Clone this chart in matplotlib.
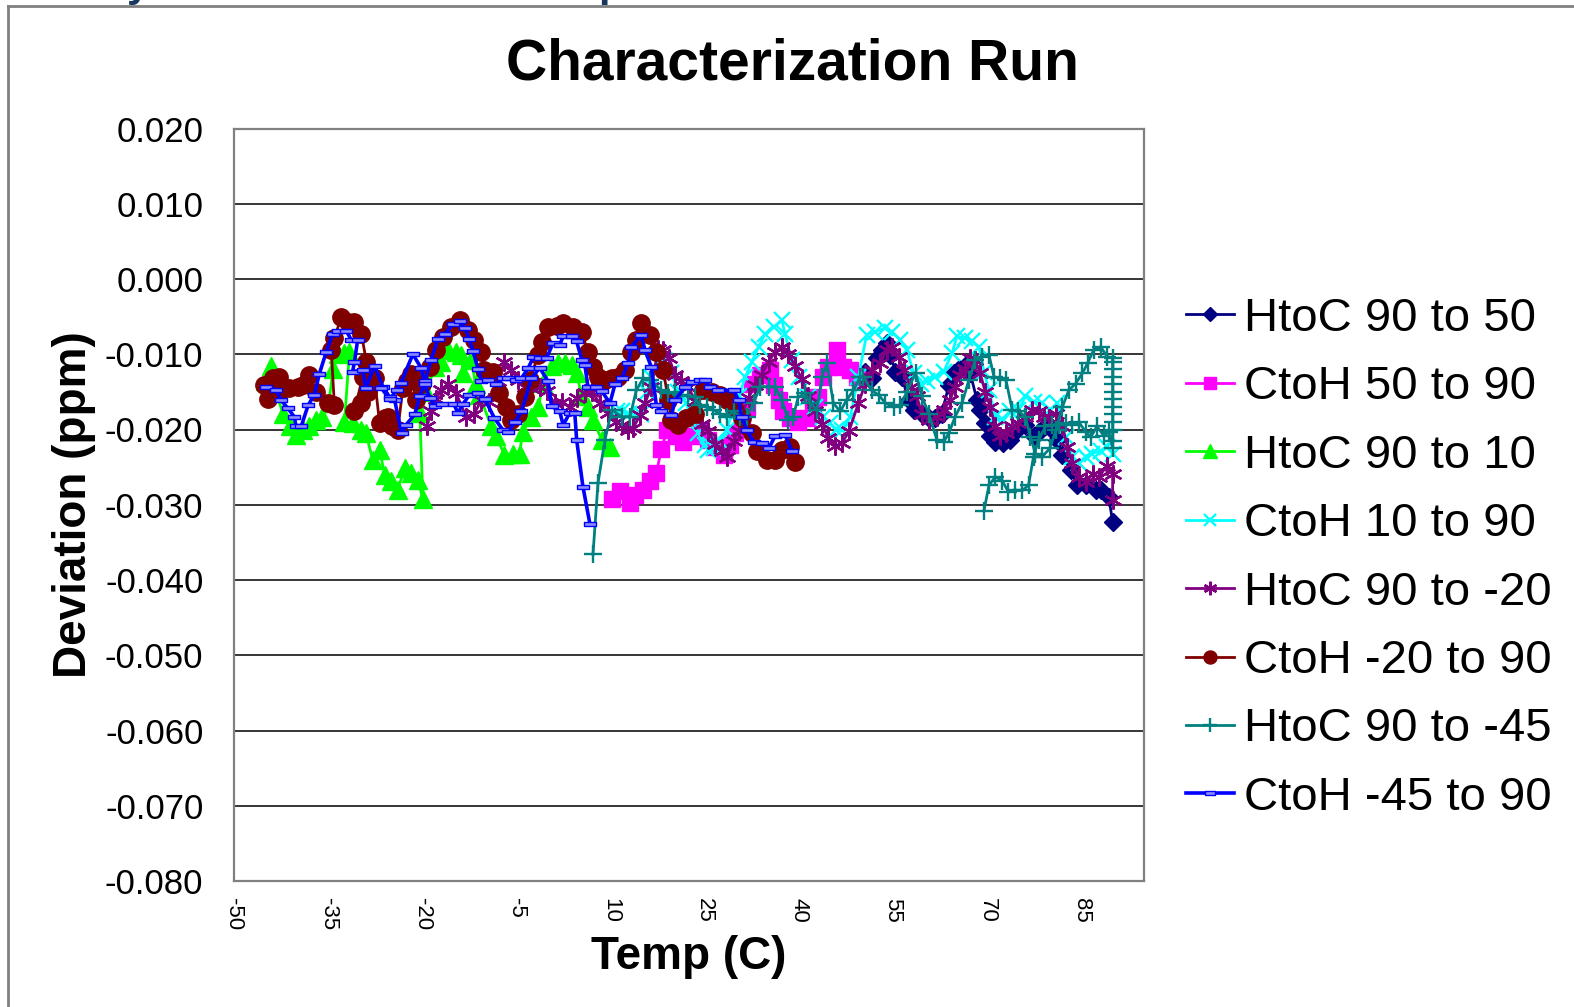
import numpy as np
import matplotlib
matplotlib.use("Agg")
import matplotlib.pyplot as plt
from matplotlib.lines import Line2D
from matplotlib.ticker import FormatStrFormatter

plt.rcParams['font.family'] = ['Liberation Sans', 'DejaVu Sans']
plt.rcParams['axes.unicode_minus'] = False

# ---- data: temperature (C) and deviation (ppm) for each run ----
htoc_90_50_t = [90.0, 89.4, 88.1, 87.3, 85.7, 84.4, 83.3, 82.0, 81.2, 80.4, 79.3, 78.2, 77.4, 76.1,
                75.0, 73.7, 72.6, 71.3, 70.5, 69.7, 68.9, 68.4, 67.3, 66.5, 65.5, 64.7, 63.9, 62.8,
                61.7, 60.7, 59.6, 58.3, 57.5, 56.4, 55.4, 54.6, 54.0, 53.2, 52.4, 51.6, 50.6]
htoc_90_50_v = [-0.0323, -0.0290, -0.0281, -0.0281, -0.0274, -0.0274, -0.0254, -0.0234, -0.0214,
                -0.0201, -0.0196, -0.0203, -0.0208, -0.0194, -0.0199, -0.0214, -0.0218, -0.0216,
                -0.0208, -0.0192, -0.0174, -0.0161, -0.0125, -0.0116, -0.0119, -0.0125, -0.0141,
                -0.0179, -0.0185, -0.0185, -0.0179, -0.0174, -0.0161, -0.0130, -0.0123, -0.0101,
                -0.0085, -0.0094, -0.0105, -0.0132, -0.0123]

ctoh_50_90_t = [10.2, 11.5, 13.1, 13.9, 15.2, 16.3, 17.3, 18.1, 19.0, 20.5, 21.6, 22.9, 24.2, 25.6,
                26.6, 28.0, 29.0, 29.8, 30.9, 31.7, 32.5, 33.8, 35.4, 36.0, 36.8, 37.5, 38.6, 39.9,
                41.3, 42.3, 43.1, 43.9, 44.7, 46.1, 47.1, 48.2, 49.3]
ctoh_50_90_v = [-0.0293, -0.0282, -0.0298, -0.0287, -0.0280, -0.0269, -0.0258, -0.0226, -0.0201,
                -0.0209, -0.0216, -0.0209, -0.0203, -0.0214, -0.0223, -0.0234, -0.0221, -0.0205,
                -0.0187, -0.0170, -0.0139, -0.0128, -0.0121, -0.0141, -0.0161, -0.0176, -0.0185,
                -0.0190, -0.0185, -0.0172, -0.0157, -0.0130, -0.0117, -0.0095, -0.0117, -0.0121,
                -0.0130]

htoc_90_10_t = [-45.0, -44.1, -43.3, -42.2, -41.0, -40.1, -39.0, -38.0, -36.9, -35.9, -34.9, -34.2,
                -33.4, -32.4, -31.6, -32.4, -31.1, -29.8, -29.0, -27.9, -26.8, -26.0, -25.0, -23.9,
                -22.8, -21.8, -20.7, -19.9, -20.4, -19.4, -18.0, -17.0, -15.9, -14.6, -13.8, -13.5,
                -12.2, -11.5, -10.9, -9.0, -8.2, -6.9, -5.5, -4.5, -4.0, -2.6, -1.5, -0.75, 0.6,
                1.7, 2.8, 3.8, 4.6, 5.4, 6.4, 7.2, 8.6, 9.9]
htoc_90_10_v = [-0.0135, -0.0115, -0.0150, -0.0179, -0.0195, -0.0207, -0.0200, -0.0196, -0.0187,
                -0.0183, -0.0165, -0.0120, -0.0100, -0.0098, -0.0097, -0.0190, -0.0192, -0.0200,
                -0.0205, -0.0240, -0.0227, -0.0260, -0.0269, -0.0280, -0.0251, -0.0258, -0.0267,
                -0.0293, -0.0178, -0.0150, -0.0117, -0.0110, -0.0095, -0.0097, -0.0101, -0.0125,
                -0.0107, -0.0140, -0.0154, -0.0196, -0.0209, -0.0234, -0.0232, -0.0232, -0.0203,
                -0.0183, -0.0170, -0.0138, -0.0116, -0.0111, -0.0111, -0.0114, -0.0125, -0.0156,
                -0.0170, -0.0187, -0.0214, -0.0223]

ctoh_10_90_t = [11.0, 11.8, 13.0, 14.9, 15.8, 16.5, 17.5, 18.5, 19.7, 20.8, 22.0, 23.0, 24.0, 25.0,
                25.6, 26.5, 27.5, 28.5, 29.5, 30.5, 31.5, 32.5, 33.6, 34.6, 36.0, 37.3, 37.8, 38.9,
                40.0, 41.5, 42.6, 43.9, 45.0, 46.0, 46.9, 48.2, 49.5, 50.8, 52.2, 53.8, 54.8, 56.2,
                57.2, 58.3, 59.4, 60.4, 61.7, 63.1, 64.4, 65.2, 66.5, 67.6, 68.7, 69.5, 70.3, 71.3,
                72.6, 73.7, 75.0, 76.1, 77.4, 78.8, 80.1, 81.2, 82.5, 83.6, 84.6, 85.7, 86.7, 88.1,
                89.1, 90.0]
ctoh_10_90_v = [-0.0175, -0.0175, -0.0180, -0.0180, -0.0150, -0.0130, -0.0110, -0.0107, -0.0125,
                -0.0150, -0.0165, -0.0185, -0.0205, -0.0220, -0.0227, -0.0225, -0.0215, -0.0200,
                -0.0175, -0.0155, -0.0130, -0.0110, -0.0090, -0.0073, -0.0064, -0.0055, -0.0073,
                -0.0108, -0.0130, -0.0157, -0.0170, -0.0183, -0.0192, -0.0200, -0.0201, -0.0183,
                -0.0130, -0.0074, -0.0070, -0.0065, -0.0070, -0.0081, -0.0094, -0.0125, -0.0139,
                -0.0136, -0.0130, -0.0123, -0.0099, -0.0076, -0.0079, -0.0083, -0.0090, -0.0123,
                -0.0148, -0.0183, -0.0188, -0.0176, -0.0174, -0.0156, -0.0163, -0.0165, -0.0174,
                -0.0165, -0.0210, -0.0236, -0.0245, -0.0236, -0.0232, -0.0228, -0.0223, -0.0232]

htoc_90_m20_t = [-19.3, -18.6, -17.8, -17.0, -15.9, -14.6, -13.0, -11.7, -10.6, -9.4, -8.0, -6.9,
                 -5.8, -4.7, -3.7, -2.6, -1.3, -0.2, 1.1, 2.2, 3.5, 4.6, 5.9, 7.0, 8.3, 9.6, 10.8,
                 11.8, 12.8, 13.6, 14.7, 15.5, 16.5, 17.6, 18.4, 19.3, 20.3, 21.3, 22.4, 23.5, 24.5,
                 25.6, 26.6, 27.7, 28.5, 29.6, 30.4, 30.9, 32.0, 33.0, 34.1, 35.2, 36.2, 37.3, 38.3,
                 39.4, 40.5, 41.5, 42.6, 43.7, 44.7, 45.8, 46.9, 48.0, 49.5, 50.6, 51.6, 53.0, 54.0,
                 54.8, 55.9, 56.7, 57.8, 58.8, 59.6, 60.7, 62.0, 63.1, 64.1, 64.9, 65.7, 66.5, 67.3,
                 68.1, 68.9, 69.7, 70.5, 71.3, 72.1, 73.0, 74.0, 75.0, 76.1, 77.2, 78.2, 79.0, 79.8,
                 80.9, 82.0, 82.8, 83.6, 84.6, 85.7, 86.8, 87.8, 89.1, 90.0, 90.0]
htoc_90_m20_v = [-0.0196, -0.0176, -0.0159, -0.0148, -0.0139, -0.0152, -0.0183, -0.0179, -0.0161,
                 -0.0163, -0.0135, -0.0110, -0.0121, -0.0134, -0.0143, -0.0145, -0.0143, -0.0149,
                 -0.0165, -0.0163, -0.0170, -0.0158, -0.0152, -0.0150, -0.0165, -0.0178, -0.0190,
                 -0.0194, -0.0201, -0.0198, -0.0181, -0.0165, -0.0143, -0.0093, -0.0095, -0.0105,
                 -0.0127, -0.0136, -0.0144, -0.0162, -0.0193, -0.0202, -0.0219, -0.0228, -0.0237,
                 -0.0215, -0.0202, -0.0180, -0.0158, -0.0141, -0.0127, -0.0110, -0.0097, -0.0090,
                 -0.0100, -0.0115, -0.0133, -0.0155, -0.0176, -0.0193, -0.0211, -0.0222, -0.0218,
                 -0.0202, -0.0165, -0.0139, -0.0121, -0.0112, -0.0094, -0.0090, -0.0103, -0.0121,
                 -0.0143, -0.0156, -0.0179, -0.0188, -0.0183, -0.0174, -0.0161, -0.0143, -0.0128,
                 -0.0119, -0.0105, -0.0108, -0.0125, -0.0150, -0.0170, -0.0196, -0.0208, -0.0205,
                 -0.0196, -0.0192, -0.0183, -0.0174, -0.0176, -0.0183, -0.0185, -0.0179, -0.0196,
                 -0.0223, -0.0245, -0.0263, -0.0270, -0.0259, -0.0263, -0.0248, -0.0259, -0.0294]

ctoh_m20_90_t = [-45.2, -44.6, -43.8, -42.8, -42.5, -41.2, -39.8, -39.0, -38.0, -37.0, -35.1, -34.0,
                 -34.5, -34.0, -32.9, -31.9, -30.8, -29.7, -28.9, -29.5, -30.8, -29.8, -28.6, -27.6,
                 -26.8, -26.0, -25.5, -24.8, -23.9, -23.1, -22.5, -21.8, -21.0, -20.0, -18.8, -17.8,
                 -16.7, -15.4, -14.0, -12.7, -11.7, -10.6, -10.1, -8.7, -7.7, -6.6, -5.8, -4.7, -3.7,
                 -2.9, -1.5, -1.0, 0.05, 1.4, 2.4, 4.0, 5.4, 6.4, 7.2, 8.0, 9.1, 10.2, 11.2, 12.3,
                 13.3, 14.1, 14.9, 16.3, 17.3, 18.4, 19.2, 19.7, 20.8, 22.1, 23.4, 24.8, 26.1, 27.4,
                 28.5, 29.6, 30.9, 32.5, 33.3, 34.9, 36.2, 37.3, 38.6, 39.4]
ctoh_m20_90_v = [-0.0141, -0.0160, -0.0132, -0.0130, -0.0148, -0.0145, -0.0143, -0.0141, -0.0128,
                 -0.0150, -0.0165, -0.0168, -0.0095, -0.0078, -0.0051, -0.0057, -0.0057, -0.0073,
                 -0.0110, -0.0130, -0.0175, -0.0165, -0.0150, -0.0132, -0.0192, -0.0185, -0.0183,
                 -0.0195, -0.0201, -0.0145, -0.0135, -0.0126, -0.0161, -0.0140, -0.0117, -0.0095,
                 -0.0077, -0.0064, -0.0055, -0.0068, -0.0081, -0.0097, -0.0121, -0.0123, -0.0152,
                 -0.0170, -0.0187, -0.0179, -0.0157, -0.0134, -0.0101, -0.0084, -0.0064, -0.0062,
                 -0.0059, -0.0064, -0.0070, -0.0097, -0.0117, -0.0130, -0.0134, -0.0132, -0.0130,
                 -0.0121, -0.0097, -0.0081, -0.0059, -0.0075, -0.0097, -0.0121, -0.0161, -0.0187,
                 -0.0194, -0.0185, -0.0179, -0.0148, -0.0150, -0.0154, -0.0161, -0.0170, -0.0185,
                 -0.0205, -0.0229, -0.0240, -0.0240, -0.0227, -0.0223, -0.0243]

htoc_90_m45_t = [69.5, 70.3, 71.3, 72.4, 73.4, 74.5, 75.6, 76.6, 77.4, 78.2, 79.3, 80.4, 81.4, 82.5,
                 83.6, 84.6, 85.7, 86.5, 87.5, 88.6, 89.4, 90.0, 90.0, 90.0, 90.0, 90.0, 90.0, 90.0,
                 90.0, 90.0, 90.0, 90.0, 90.0, 90.0, 89.1, 88.1, 87.0, 86.0, 85.2, 84.1, 83.0, 82.0,
                 81.0, 80.0, 78.8, 77.7, 76.9, 76.1, 75.0, 74.0, 73.0, 72.1, 71.1, 70.3, 69.2, 68.1,
                 67.1, 66.0, 64.9, 63.9, 63.1, 62.0, 60.7, 59.6, 58.6, 57.2, 56.2, 55.1, 53.8, 52.7,
                 51.6, 50.3, 49.8, 48.7, 47.6, 46.6, 45.5, 44.5, 43.7, 42.9, 41.8, 41.0, 39.9, 39.1,
                 38.3, 37.3, 36.2, 35.2, 33.8, 32.8, 31.7, 30.6, 29.6, 28.5, 27.4, 26.4, 25.3, 24.2,
                 23.4, 22.3, 21.3, 20.3, 19.2, 18.1, 16.3, 15.2, 14.1, 13.1, 11.8, 10.2, 9.1, 8.0, 7.2]
htoc_90_m45_v = [-0.0308, -0.0274, -0.0263, -0.0268, -0.0283, -0.0281, -0.0281, -0.0274, -0.0236,
                 -0.0214, -0.0196, -0.0194, -0.0194, -0.0192, -0.0194, -0.0190, -0.0203, -0.0210,
                 -0.0196, -0.0208, -0.0203, -0.0225, -0.0215, -0.0200, -0.0190, -0.0180, -0.0170,
                 -0.0160, -0.0150, -0.0140, -0.0130, -0.0120, -0.0110, -0.0105, -0.0103, -0.0090,
                 -0.0094, -0.0112, -0.0125, -0.0139, -0.0148, -0.0170, -0.0200, -0.0225, -0.0236,
                 -0.0232, -0.0210, -0.0183, -0.0176, -0.0174, -0.0134, -0.0132, -0.0130, -0.0101,
                 -0.0103, -0.0108, -0.0134, -0.0165, -0.0183, -0.0205, -0.0216, -0.0214, -0.0179,
                 -0.0156, -0.0125, -0.0150, -0.0168, -0.0170, -0.0165, -0.0154, -0.0148, -0.0130,
                 -0.0130, -0.0148, -0.0161, -0.0176, -0.0165, -0.0112, -0.0130, -0.0174, -0.0165,
                 -0.0152, -0.0157, -0.0183, -0.0187, -0.0161, -0.0143, -0.0143, -0.0143, -0.0165,
                 -0.0183, -0.0183, -0.0176, -0.0183, -0.0179, -0.0174, -0.0170, -0.0168, -0.0157,
                 -0.0155, -0.0154, -0.0150, -0.0152, -0.0148, -0.0134, -0.0132, -0.0148, -0.0183,
                 -0.0183, -0.0174, -0.0214, -0.0271, -0.0366]

# the -45 to 90 run has a gap in its record (nan)
ctoh_m45_90_t = [-44.9, -43.3, -42.5, -41.4, -40.4, -40.1, -39.3, -38.2, -37.2, -36.4, -35.3, -34.3,
                 -33.5, -32.1, -31.3, -30.3, -30.8, -31.1, -29.5, -29.0, -27.6, -26.3, -25.2, -24.4,
                 -23.3, -22.6, -21.2, -20.4, -19.6, -18.6, -17.5, -16.4, -15.1, -14.0, -13.2, -12.5,
                 -11.9, -11.1, -10.6, -9.5, -8.3, -7.1, -6.3, -5.0, -4.2, -3.1, -2.3, -1.3, -0.2,
                 0.85, 1.9, 2.45, 3.8, 4.6, 5.4, 5.9, 6.4, 7.7, 8.6, 9.9, 10.7, 11.8, 12.8, 13.3,
                 14.9, 15.5, 16.5, 17.3, 18.1, 19.7, 20.3, 21.9, 23.0, 24.2, 25.0, 25.8, 27.2, 29.6,
                 30.4, 30.9, 31.7, 32.8, 34.1, 35.2, 36.2, 37.8, 38.9,
                 np.nan,
                 -26.5, -25.2, -24.1, -23.4, -21.5, -20.2, -19.6, -18.8, -18.0, -16.9, -15.0, -14.3,
                 -13.5, -12.5, -11.2, -10.0, -8.5, -7.2, -6.3, -5.2, -4.2, -2.6, -1.3, 0.05, 0.6, 1.9,
                 2.45, 3.5, 4.3, 4.6, 5.6, 6.7]
ctoh_m45_90_v = [-0.0144, -0.0147, -0.0161, -0.0172, -0.0183, -0.0196, -0.0196, -0.0168, -0.0154,
                 -0.0126, -0.0097, -0.0073, -0.0069, -0.0069, -0.0081, -0.0081, -0.0110, -0.0123,
                 -0.0121, -0.0145, -0.0115, -0.0143, -0.0157, -0.0161, -0.0205, -0.0194, -0.0180,
                 -0.0156, -0.0136, -0.0107, -0.0080, -0.0073, -0.0060, -0.0056, -0.0065, -0.0080,
                 -0.0096, -0.0120, -0.0135, -0.0134, -0.0140, -0.0132, -0.0132, -0.0134, -0.0132,
                 -0.0118, -0.0104, -0.0105, -0.0105, -0.0085, -0.0088, -0.0076, -0.0076, -0.0083,
                 -0.0107, -0.0114, -0.0143, -0.0143, -0.0149, -0.0165, -0.0140, -0.0132, -0.0112,
                 -0.0090, -0.0075, -0.0095, -0.0117, -0.0168, -0.0176, -0.0181, -0.0161, -0.0143,
                 -0.0137, -0.0134, -0.0134, -0.0143, -0.0148, -0.0148, -0.0161, -0.0183, -0.0201,
                 -0.0216, -0.0218, -0.0225, -0.0209, -0.0207, -0.0229,
                 np.nan,
                 -0.0145, -0.0160, -0.0148, -0.0138, -0.0100, -0.0118, -0.0140, -0.0158, -0.0169,
                 -0.0166, -0.0166, -0.0178, -0.0166, -0.0154, -0.0151, -0.0160, -0.0185, -0.0200,
                 -0.0203, -0.0190, -0.0176, -0.0132, -0.0118, -0.0136, -0.0169, -0.0176, -0.0194,
                 -0.0178, -0.0178, -0.0214, -0.0276, -0.0325]

x_ticks = [-50, -35, -20, -5, 10, 25, 40, 55, 70, 85]
y_ticks = [-0.080, -0.070, -0.060, -0.050, -0.040, -0.030, -0.020, -0.010, 0.000, 0.010, 0.020]

# ---- figure ----
W, H = 1574, 1007
fig = plt.figure(figsize=(W / 100, H / 100), dpi=100)
fig.patch.set_facecolor('white')

AX_L, AX_R, AX_T, AX_B = 234, 1144, 128.5, 881
ax = fig.add_axes([AX_L / W, 1 - AX_B / H, (AX_R - AX_L) / W, (AX_B - AX_T) / H])
ax.set_xlim(-50, 95)
ax.set_ylim(-0.080, 0.020)
ax.set_xticks(x_ticks)
ax.set_yticks(y_ticks)
ax.yaxis.set_major_formatter(FormatStrFormatter('%.3f'))
ax.yaxis.grid(True, color='black', linewidth=1.1)
ax.set_axisbelow(True)
for s in ax.spines.values():
    s.set_color('#808080')
    s.set_linewidth(1.6)
ax.tick_params(axis='both', length=0)
ax.tick_params(axis='y', labelsize=25, pad=22)
ax.tick_params(axis='x', labelsize=16, pad=12, labelrotation=-90)

blue_dash = [(-1, -0.35), (1, -0.35), (1, 0.35), (-1, 0.35), (-1, -0.35)]
series = [
    (htoc_90_50_t, htoc_90_50_v, 'HtoC 90 to 50', '#000080',
     dict(marker='D', markersize=9.5, mfc='#000080', mec='#000080')),
    (ctoh_50_90_t, ctoh_50_90_v, 'CtoH 50 to 90', '#FF00FF',
     dict(marker='s', markersize=11, mfc='#FF00FF', mec='#FF00FF')),
    (htoc_90_10_t, htoc_90_10_v, 'HtoC 90 to 10', '#00FF00',
     dict(marker='^', markersize=12.5, mfc='#00FF00', mec='#00FF00')),
    (ctoh_10_90_t, ctoh_10_90_v, 'CtoH 10 to 90', '#00FFFF',
     dict(marker='x', markersize=11, mew=1.7)),
    (htoc_90_m20_t, htoc_90_m20_v, 'HtoC 90 to -20', '#800080',
     dict(marker=(6, 2, 0), markersize=13, mew=1.7)),
    (ctoh_m20_90_t, ctoh_m20_90_v, 'CtoH -20 to 90', '#800000',
     dict(marker='o', markersize=12.5, mfc='#800000', mec='#800000')),
    (htoc_90_m45_t, htoc_90_m45_v, 'HtoC 90 to -45', '#008080',
     dict(marker='+', markersize=13, mew=1.7)),
    (ctoh_m45_90_t, ctoh_m45_90_v, 'CtoH -45 to 90', '#0000FF',
     dict(marker=blue_dash, markersize=9, mfc='#8c8cff', mec='#0000FF', mew=1.0)),
]

handles = []
for t, v, name, col, mk in series:
    lw = 2.6 if col == '#0000FF' else 2.0
    ln, = ax.plot(t, v, color=col, linewidth=lw, label=name, **mk)
    handles.append(ln)

ax.set_xlabel('Temp (C)', fontsize=33, fontweight='bold')
ax.xaxis.set_label_coords(0.5, -(957 - AX_B) / (AX_B - AX_T))
ax.xaxis.label.set_va('center')
ax.set_ylabel('Deviation (ppm)', fontsize=33, fontweight='bold')
ax.yaxis.set_label_coords((74 - AX_L) / (AX_R - AX_L), 0.5)
ax.yaxis.label.set_va('center')

fig.text(792 / W, 1 - 64 / H, 'Characterization Run', ha='center', va='center',
         fontsize=41, fontweight='bold')

leg = fig.legend(handles=handles, loc='upper left',
                 bbox_to_anchor=(1186 / W, 1 - 297 / H), frameon=False,
                 fontsize=34, handlelength=1.02, handletextpad=0.2,
                 labelspacing=0.517, borderpad=0, borderaxespad=0, markerscale=0.75)

# slide frame around the chart
fig.add_artist(Line2D([8 / W, 1.0], [1 - 6 / H, 1 - 6 / H], transform=fig.transFigure,
                      color='#808080', linewidth=2))
fig.add_artist(Line2D([8 / W, 8 / W], [0.0, 1 - 6 / H], transform=fig.transFigure,
                      color='#808080', linewidth=2))

# slide heading running off the top edge
fig.text(127 / W, 1 + 4 / H, 'y', color='#17375e', fontsize=30, fontweight='bold',
         ha='left', va='baseline')
fig.text(598 / W, 1 + 4 / H, 'p', color='#17375e', fontsize=30, fontweight='bold',
         ha='left', va='baseline')

fig.savefig('out.png', dpi=100, facecolor='white')
